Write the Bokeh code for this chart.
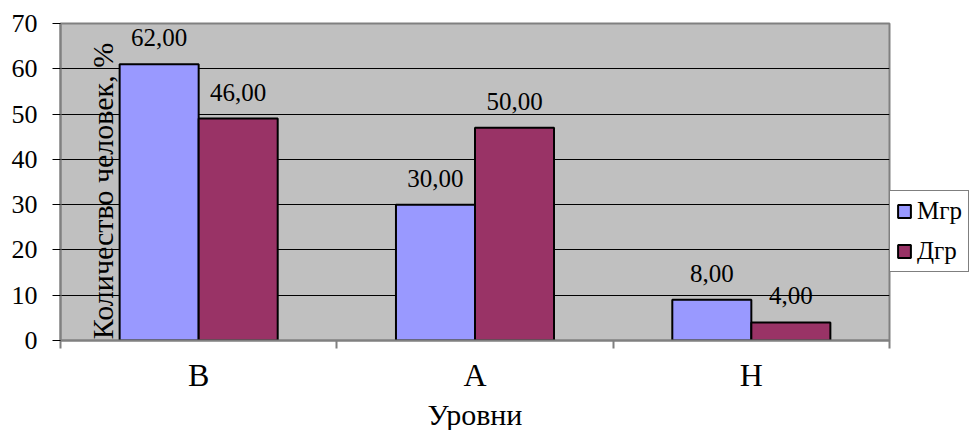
import math
from bokeh.plotting import figure
from bokeh.models import (ColumnDataSource, FixedTicker, LabelSet, Label, Legend,
                          LegendItem, Range1d)
from bokeh.embed import file_html
from bokeh.resources import INLINE

# ---- data ----
levels = ["В", "А", "Н"]
series_names = ["Мгр", "Дгр"]
mgr_values = [61, 30, 9]
dgr_values = [49, 47, 4]
mgr_labels = ["62,00", "30,00", "8,00"]
dgr_labels = ["46,00", "50,00", "4,00"]
y_ticks = [0, 10, 20, 30, 40, 50, 60, 70]
y_title = "Количество человек, %"
x_title = "Уровни"

FONT = "Liberation Serif"
MGR_COLOR = "#9999FF"
DGR_COLOR = "#993366"

n = len(levels)
centers = [i + 0.5 for i in range(n)]
bar_w = 0.286
mgr_x = [c - bar_w / 2 for c in centers]
dgr_x = [c + bar_w / 2 for c in centers]

src_m = ColumnDataSource(dict(x=mgr_x, top=mgr_values, lab=mgr_labels))
src_d = ColumnDataSource(dict(x=dgr_x, top=dgr_values, lab=dgr_labels))

p = figure(frame_width=829, frame_height=317, output_backend="svg",
           toolbar_location=None,
           x_range=Range1d(0, n), y_range=Range1d(y_ticks[0], y_ticks[-1]),
           min_border_left=60, min_border_right=80, min_border_top=23,
           min_border_bottom=90)
p.background_fill_color = "#C0C0C0"
p.border_fill_color = "white"
p.outline_line_color = "#808080"
p.outline_line_width = 2

r_m = p.vbar(x="x", top="top", bottom=0, width=bar_w, source=src_m,
             fill_color=MGR_COLOR, line_color="black", line_width=2)
r_d = p.vbar(x="x", top="top", bottom=0, width=bar_w, source=src_d,
             fill_color=DGR_COLOR, line_color="black", line_width=2)

for src in (src_m, src_d):
    p.add_layout(LabelSet(x="x", y="top", text="lab", source=src,
                          text_align="center", text_baseline="alphabetic",
                          y_offset=18, text_font=FONT, text_font_size="25px",
                          text_color="black"))

# y axis
p.yaxis.ticker = FixedTicker(ticks=y_ticks)
p.yaxis.major_label_text_font = FONT
p.yaxis.major_label_text_font_size = "26px"
p.yaxis.major_label_text_color = "black"
p.yaxis.major_tick_out = 8
p.yaxis.major_tick_in = 0
p.yaxis.minor_tick_line_color = None
p.yaxis.major_tick_line_color = "black"
p.yaxis.axis_line_color = "#808080"
p.yaxis.axis_line_width = 2
p.yaxis.major_label_standoff = 15

# x axis
p.xaxis.ticker = FixedTicker(ticks=centers, minor_ticks=list(range(n + 1)))
p.xaxis.major_label_overrides = {c: lab for c, lab in zip(centers, levels)}
p.xaxis.major_tick_line_color = None
p.xaxis.major_tick_out = 0
p.xaxis.major_tick_in = 0
p.xaxis.minor_tick_out = 8
p.xaxis.minor_tick_in = 0
p.xaxis.minor_tick_line_color = "#808080"
p.xaxis.minor_tick_line_width = 2
p.xaxis.axis_line_color = "#808080"
p.xaxis.axis_line_width = 2
p.xaxis.major_label_text_font = FONT
p.xaxis.major_label_text_font_size = "32px"
p.xaxis.major_label_text_color = "black"
p.xaxis.major_label_standoff = 8
p.xaxis.axis_label = x_title
p.xaxis.axis_label_text_font = FONT
p.xaxis.axis_label_text_font_size = "30px"
p.xaxis.axis_label_text_font_style = "normal"
p.xaxis.axis_label_text_color = "black"
p.xaxis.axis_label_standoff = 2

p.xgrid.grid_line_color = None
p.ygrid.ticker = FixedTicker(ticks=y_ticks[1:-1])
p.ygrid.grid_line_color = "black"
p.ygrid.grid_line_width = 1

# y title drawn over the plot as in the reference (kept inside the frame)
p.add_layout(Label(x=0.152, y=33.0, text=y_title, angle=math.pi / 2,
                   text_align="center", text_baseline="alphabetic",
                   text_font=FONT, text_font_size="30px", text_color="black"))

legend = Legend(items=[LegendItem(label=series_names[0], renderers=[r_m]),
                       LegendItem(label=series_names[1], renderers=[r_d])],
                location=(0, 68), orientation="vertical")
legend.border_line_color = "black"
legend.border_line_width = 1
legend.background_fill_color = "white"
legend.background_fill_alpha = 1
legend.label_text_font = FONT
legend.label_text_font_size = "25px"
legend.label_text_color = "black"
legend.glyph_width = 16
legend.glyph_height = 16
legend.label_standoff = 5
legend.padding = 6
legend.spacing = 12
legend.margin = 0
p.add_layout(legend, "right")

open("out.html", "w").write(file_html(p, INLINE))
